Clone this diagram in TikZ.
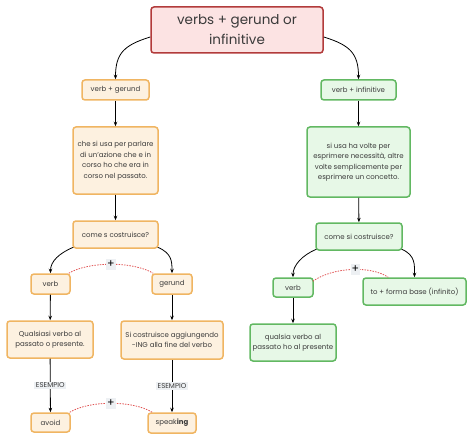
\documentclass[tikz,border=0pt]{standalone}
\usepackage{fontspec}
\setmainfont{Poppins}
\usetikzlibrary{arrows.meta}
\definecolor{redB}{HTML}{B23B3B}
\definecolor{redF}{HTML}{FCE3E3}
\definecolor{orB}{HTML}{F0B562}
\definecolor{orF}{HTML}{FDF1E0}
\definecolor{grB}{HTML}{62B862}
\definecolor{grF}{HTML}{E7F8E7}
\definecolor{txt}{HTML}{3A3A3A}
\definecolor{lbg}{HTML}{EDF0F3}
\definecolor{dotred}{HTML}{E05555}
\begin{document}
\begin{tikzpicture}[x=1pt,y=-1pt,
  box/.style={rounded corners=3pt, line width=1.5pt, inner sep=0pt, align=center, text=txt, font=\fontsize{7}{10.5}\selectfont},
  ob/.style={box, draw=orB, fill=orF},
  gb/.style={box, draw=grB, fill=grF},
  arr/.style={-{Stealth[length=4.5pt,width=3.5pt]}, line width=0.8pt, black},
  dotl/.style={dotred, line width=0.8pt, dash pattern=on 1.5pt off 1.2pt},
  plusl/.style={fill=lbg, inner sep=1pt, minimum width=9pt, minimum height=11pt, font=\fontsize{11}{11}\selectfont, text=black},
  lab/.style={fill=lbg, inner sep=1.5pt, font=\fontsize{7}{8}\selectfont, text=txt}]
\useasboundingbox (0,0) rectangle (474,441);

\node[box, draw=redB, fill=redF, minimum width=172pt, minimum height=46pt, font=\fontsize{13.5}{20}\selectfont] (root) at (237,30) {verbs + gerund or\\infinitive};

\node[ob, minimum width=67pt, minimum height=20pt] (vg) at (115.5,90) {verb + gerund};
\node[gb, minimum width=75pt, minimum height=20pt] (vi) at (358.5,90) {verb + infinitive};

\node[ob, minimum width=85pt, minimum height=67pt] (lA) at (115.5,160.5) {che si usa per parlare\\di un'azione che e in\\corso ho che era in\\corso nel passato.};
\node[ob, minimum width=85pt, minimum height=27pt] (lB) at (115.5,234.5) {come s costruisce?};

\node[gb, minimum width=103pt, minimum height=70pt] (rA) at (358.5,162) {si usa ha volte per\\esprimere necessità, altre\\volte semplicemente per\\esprimere un concetto.};
\node[gb, minimum width=86pt, minimum height=27pt] (rB) at (359,236.5) {come si costruisce?};

\node[ob, minimum width=39pt, minimum height=20pt] (verbL) at (50.5,284) {verb};
\node[ob, minimum width=40pt, minimum height=20pt] (gerund) at (172,284) {gerund};
\node[ob, minimum width=86pt, minimum height=37pt] (qualL) at (50,339.5) {Qualsiasi verbo al\\passato o presente.};
\node[ob, minimum width=102pt, minimum height=38pt] (sicos) at (172,340) {Si costruisce aggiungendo\\-ING alla fine del verbo};
\node[ob, minimum width=39pt, minimum height=19pt] (avoid) at (50.5,422.5) {avoid};
\node[ob, minimum width=48pt, minimum height=20pt] (speak) at (172,423) {speak\textbf{ing}};

\node[gb, minimum width=40pt, minimum height=19pt] (verbR) at (293,287.5) {verb};
\node[gb, minimum width=103pt, minimum height=27pt] (toforma) at (414.5,291.5) {to + forma base (infinito)};
\node[gb, minimum width=86pt, minimum height=37pt] (qualR) at (293,342.5) {qualsia verbo al\\passato ho al presente};

% connectors
\draw[arr] ([yshift=-7pt]root.west) .. controls +(-26,8) and +(0,-26) .. (vg.north);
\draw[arr] ([yshift=-7pt]root.east) .. controls +(26,8) and +(0,-26) .. (vi.north);
\draw[arr] (vg) -- (lA);
\draw[arr] (lA) -- (lB);
\draw[arr] (vi) -- (rA);
\draw[arr] (rA) -- (rB);

\draw[arr] ([xshift=1pt,yshift=1.5pt]lB.south west) .. controls +(-14,6) and +(0,-12) .. (verbL.north);
\draw[arr] ([xshift=-1pt,yshift=1.5pt]lB.south east) .. controls +(14,6) and +(0,-12) .. (gerund.north);
\draw[arr] ([xshift=1pt,yshift=1.5pt]rB.south west) .. controls +(-14,6) and +(0,-12) .. (verbR.north);
\draw[arr] ([xshift=-1pt,yshift=1.5pt]rB.south east) .. controls +(14,6) and +(0,-12) .. (toforma.north);

\draw[arr] (verbL) -- (qualL);
\draw[arr] (gerund) -- (sicos);
\draw[arr] (verbR) -- (qualR);
\draw[arr] (qualL) -- node[lab] (e1) {ESEMPIO} (avoid);
\draw[arr] (sicos) -- node[lab] (e2) {ESEMPIO} (speak);

\draw[dotl] ([xshift=-2pt]verbL.north east) .. controls +(20,-12) and +(-20,-12) .. node[plusl, pos=.5] (p1) {+} ([xshift=2pt]gerund.north west);
\draw[dotl] ([xshift=-1pt]avoid.north east) .. controls +(20,-12) and +(-20,-12) .. node[plusl, pos=.5] (p2) {+} ([xshift=5pt]speak.north west);
\draw[dotl] ([xshift=-1pt,yshift=-4pt]verbR.north east) .. controls +(20,-14) and +(-18,-12) .. node[plusl, pos=.55] (p3) {+} ([xshift=26pt]toforma.north west);
\end{tikzpicture}
\end{document}
